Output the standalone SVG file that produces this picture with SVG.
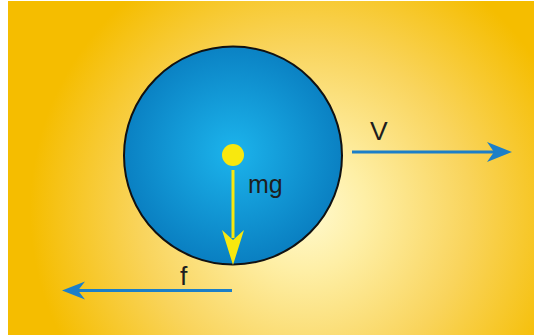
<svg xmlns="http://www.w3.org/2000/svg" width="534" height="335" viewBox="0 0 534 335">
<defs>
<radialGradient id="bg" gradientUnits="userSpaceOnUse" cx="305" cy="210" r="275">
<stop offset="0" stop-color="#fffad0"/>
<stop offset="0.22" stop-color="#feefa6"/>
<stop offset="0.6" stop-color="#f9d45c"/>
<stop offset="1" stop-color="#f5bd00"/>
</radialGradient>
<radialGradient id="ball" gradientUnits="userSpaceOnUse" cx="233" cy="152" r="110">
<stop offset="0" stop-color="#1cb4ec"/>
<stop offset="1" stop-color="#0a80c2"/>
</radialGradient>
<style>
.lbl{font-family:"Liberation Sans",Arial,sans-serif;font-size:25px;fill:#1e1e1e}
.big{font-size:26.5px}
.blue{stroke:#1c7fc8;stroke-width:3;fill:none}
.bhead{fill:#1c7fc8}
.yel{stroke:#f8e80e;stroke-width:3;fill:none}
.yhead{fill:#f8e80e}
</style>
</defs>
<rect x="0" y="0" width="534" height="335" fill="#ffffff"/>
<rect x="8" y="1" width="526" height="334" fill="url(#bg)"/>
<g id="ball-node">
<circle cx="233" cy="155.5" r="109" fill="url(#ball)" stroke="#111" stroke-width="2"/>
<circle cx="233" cy="155" r="11" fill="#f8e80e"/>
</g>
<g id="connectors">
<g id="gravity">
<line class="yel" x1="233" y1="170" x2="233" y2="238"/>
<polygon class="yhead" points="233,265 222,230 233,240 244,230"/>
</g>
<g id="velocity">
<line class="blue" x1="352" y1="152" x2="494" y2="152"/>
<polygon class="bhead" points="512,152 487,142 494,152 487,162"/>
</g>
<g id="friction">
<line class="blue" x1="232" y1="290.5" x2="76" y2="290.5"/>
<polygon class="bhead" points="62,290.5 85,281.5 78,290.5 85,299.5"/>
</g>
</g>
<g id="labels">
<text class="lbl" x="248" y="193">mg</text>
<text class="lbl big" x="370" y="140">V</text>
<text class="lbl big" x="180" y="285">f</text>
</g>
</svg>
